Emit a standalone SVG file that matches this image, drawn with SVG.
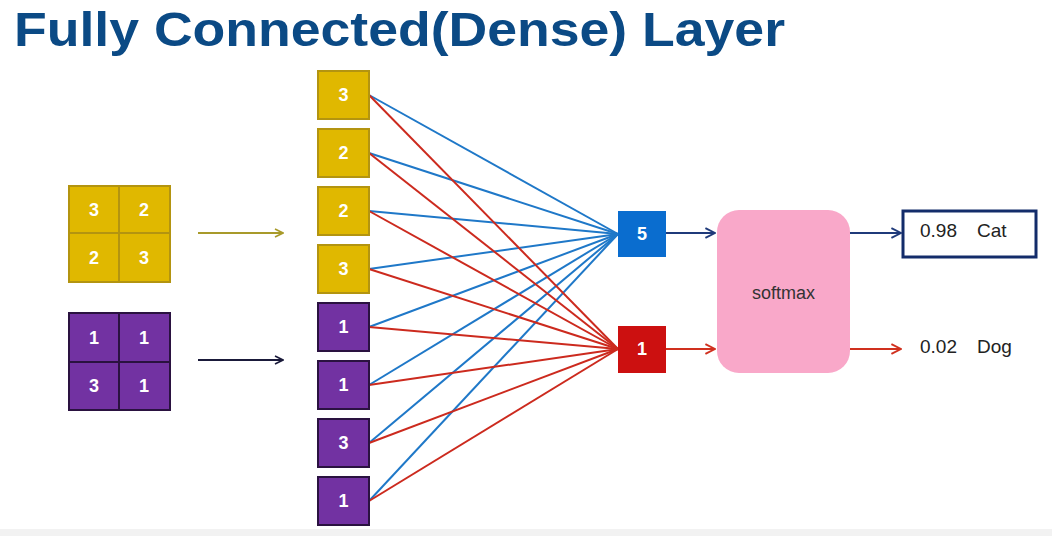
<svg xmlns="http://www.w3.org/2000/svg" width="1052" height="536" viewBox="0 0 1052 536">
<defs>
<style>
.t{font-family:"Liberation Sans",Arial,sans-serif}
.num{font-family:"Liberation Sans",Arial,sans-serif;font-weight:bold;font-size:18px;fill:#fff;text-anchor:middle}
.y{fill:#e0b800;stroke:#b39410;stroke-width:2}
.p{fill:#7232a2;stroke:#2a1240;stroke-width:2}
.bl{stroke:#1f78c8;stroke-width:2;fill:none}
.rl{stroke:#cc2a1e;stroke-width:2;fill:none}
.lbl{font-family:"Liberation Sans",Arial,sans-serif;font-size:19px;fill:#222}
</style>
<marker id="aOl" viewBox="0 0 10 10" refX="9" refY="5" markerWidth="10" markerHeight="10" markerUnits="userSpaceOnUse" orient="auto"><path d="M1,1 L9,5 L1,9" fill="none" stroke="#a89a2a" stroke-width="1.6"/></marker>
<marker id="aDk" viewBox="0 0 10 10" refX="9" refY="5" markerWidth="10" markerHeight="10" markerUnits="userSpaceOnUse" orient="auto"><path d="M1,1 L9,5 L1,9" fill="none" stroke="#1a1a3a" stroke-width="1.6"/></marker>
<marker id="aNv" viewBox="0 0 10 10" refX="9" refY="5" markerWidth="12" markerHeight="12" markerUnits="userSpaceOnUse" orient="auto"><path d="M1,1 L9,5 L1,9" fill="none" stroke="#1f3a7a" stroke-width="1.6"/></marker>
<marker id="aRd" viewBox="0 0 10 10" refX="9" refY="5" markerWidth="12" markerHeight="12" markerUnits="userSpaceOnUse" orient="auto"><path d="M1,1 L9,5 L1,9" fill="none" stroke="#d0301e" stroke-width="1.6"/></marker>
</defs>
<rect width="1052" height="536" fill="#fff"/>
<rect x="0" y="529" width="1052" height="7" fill="#f2f2f2"/>
<text class="t" x="14" y="46" font-size="49" font-weight="bold" fill="#0b4a85" textLength="771" lengthAdjust="spacingAndGlyphs">Fully Connected(Dense) Layer</text>

<g id="grid-yellow">
<rect class="y" x="69" y="186" width="50" height="47"/>
<rect class="y" x="119" y="186" width="51" height="47"/>
<rect class="y" x="69" y="233" width="50" height="49"/>
<rect class="y" x="119" y="233" width="51" height="49"/>
<text class="num" x="94" y="216">3</text><text class="num" x="144" y="216">2</text>
<text class="num" x="94" y="264">2</text><text class="num" x="144" y="264">3</text>
</g>
<g id="grid-purple">
<rect class="p" x="69" y="313" width="50" height="49"/>
<rect class="p" x="119" y="313" width="51" height="49"/>
<rect class="p" x="69" y="362" width="50" height="48"/>
<rect class="p" x="119" y="362" width="51" height="48"/>
<text class="num" x="94" y="344">1</text><text class="num" x="144" y="344">1</text>
<text class="num" x="94" y="392">3</text><text class="num" x="144" y="392">1</text>
</g>

<g id="connectors">
<line x1="198" y1="233" x2="283" y2="233" stroke="#a89a2a" stroke-width="2" marker-end="url(#aOl)"/>
<line x1="198" y1="360" x2="283" y2="360" stroke="#1a1a3a" stroke-width="2" marker-end="url(#aDk)"/>
<g class="bl">
<line x1="369" y1="95" x2="618" y2="234"/>
<line x1="369" y1="153" x2="618" y2="234"/>
<line x1="369" y1="211" x2="618" y2="234"/>
<line x1="369" y1="269" x2="618" y2="234"/>
<line x1="369" y1="327" x2="618" y2="234"/>
<line x1="369" y1="385" x2="618" y2="234"/>
<line x1="369" y1="443" x2="618" y2="234"/>
<line x1="369" y1="501" x2="618" y2="234"/>
</g>
<g class="rl">
<line x1="369" y1="95" x2="618" y2="349"/>
<line x1="369" y1="153" x2="618" y2="349"/>
<line x1="369" y1="211" x2="618" y2="349"/>
<line x1="369" y1="269" x2="618" y2="349"/>
<line x1="369" y1="327" x2="618" y2="349"/>
<line x1="369" y1="385" x2="618" y2="349"/>
<line x1="369" y1="443" x2="618" y2="349"/>
<line x1="369" y1="501" x2="618" y2="349"/>
</g>
<line x1="666" y1="233" x2="715" y2="233" stroke="#1f3a7a" stroke-width="2" marker-end="url(#aNv)"/>
<line x1="666" y1="349" x2="715" y2="349" stroke="#d0301e" stroke-width="2" marker-end="url(#aRd)"/>
<line x1="850" y1="233" x2="901" y2="233" stroke="#1f3a7a" stroke-width="2" marker-end="url(#aNv)"/>
<line x1="850" y1="349" x2="901" y2="349" stroke="#d0301e" stroke-width="2" marker-end="url(#aRd)"/>
</g>

<g id="col-1"><rect class="y" x="318" y="71" width="51" height="48"/><text class="num" x="343.5" y="101">3</text></g>
<g id="col-2"><rect class="y" x="318" y="129" width="51" height="48"/><text class="num" x="343.5" y="159">2</text></g>
<g id="col-3"><rect class="y" x="318" y="187" width="51" height="48"/><text class="num" x="343.5" y="217">2</text></g>
<g id="col-4"><rect class="y" x="318" y="245" width="51" height="48"/><text class="num" x="343.5" y="275">3</text></g>
<g id="col-5"><rect class="p" x="318" y="303" width="51" height="48"/><text class="num" x="343.5" y="333">1</text></g>
<g id="col-6"><rect class="p" x="318" y="361" width="51" height="48"/><text class="num" x="343.5" y="391">1</text></g>
<g id="col-7"><rect class="p" x="318" y="419" width="51" height="48"/><text class="num" x="343.5" y="449">3</text></g>
<g id="col-8"><rect class="p" x="318" y="477" width="51" height="48"/><text class="num" x="343.5" y="507">1</text></g>

<g id="out-cat-score"><rect x="618" y="211" width="48" height="46" fill="#0a6dcf"/><text class="num" x="642" y="240">5</text></g>
<g id="out-dog-score"><rect x="618" y="326" width="48" height="47" fill="#cc1010"/><text class="num" x="642" y="355">1</text></g>

<g id="softmax"><rect x="717" y="210" width="133" height="163" rx="22" fill="#f9a8c9"/><text class="t" x="783.5" y="299" font-size="18" fill="#333" text-anchor="middle">softmax</text></g>

<g id="cat"><rect x="903" y="211" width="133" height="46" fill="#fff" stroke="#132c6a" stroke-width="3"/><text class="lbl" x="920" y="237">0.98<tspan x="977">Cat</tspan></text></g>
<g id="dog"><text class="lbl" x="920" y="353">0.02<tspan x="977">Dog</tspan></text></g>
</svg>
